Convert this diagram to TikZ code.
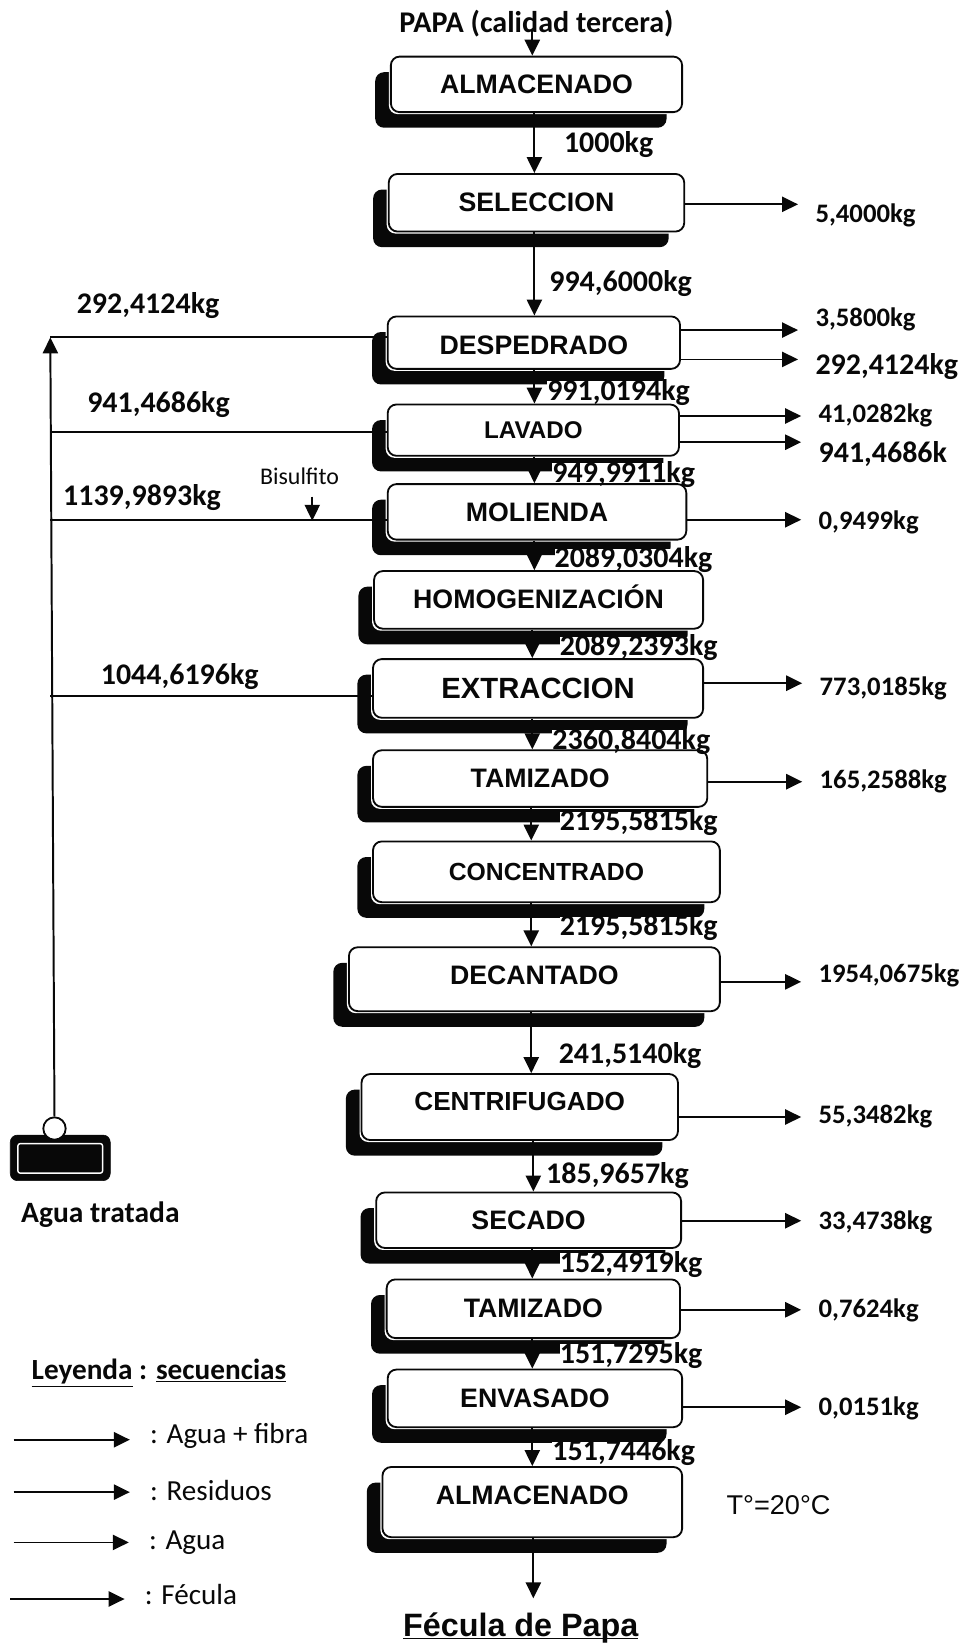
\documentclass[tikz,border=0pt]{standalone}
\usepackage{fontspec}
\setmainfont{Carlito}
\newfontfamily\arialfont{Liberation Sans}
\usepackage{xcolor}
\usepackage{tikz}
\usetikzlibrary{arrows.meta, shadows}
\definecolor{ink}{RGB}{8,8,8}

\begin{document}
\begin{tikzpicture}[
  x=0.26196mm, y=-0.26196mm, text=ink,
  box/.style={draw=ink, fill=white, line width=1.3pt, rounded corners=2.2mm, inner sep=0pt,
              font=\arialfont\bfseries\fontsize{19pt}{22pt}\selectfont, align=center,
              general shadow={fill=ink, shadow xshift=-3.9mm, shadow yshift=-3.9mm},
              general shadow={fill=white, shadow xshift=-0.5mm, shadow yshift=-0.5mm}},
  bw/.style={minimum width=#1*0.26196mm},
  bh/.style={minimum height=#1*0.26196mm},
  flow/.style={-{Triangle[length=4mm, width=3.8mm]}, draw=ink, line width=1.4pt},
  sidearrow/.style={flow, line width=1.3pt, shorten >=4.3mm},
  bar/.style={draw=ink, line width=1.3pt},
  mass/.style={anchor=west, inner sep=0pt, fill=white, text height=13.4pt, text depth=0pt,
               font=\bfseries\fontsize{21.3pt}{24pt}\selectfont},
  small/.style={mass, text height=12pt, font=\bfseries\fontsize{19pt}{22pt}\selectfont},
  key/.style={anchor=west, inner sep=0pt, font=\fontsize{20.7pt}{24pt}\selectfont}]

  \useasboundingbox (0,0) rectangle (920,1568);

  \node[box, bw=278, bh=53] (alm1) at (512,  80.5) {ALMACENADO};
  \node[box, bw=282, bh=55] (sel)  at (512, 193.5) {SELECCION};
  \node[box, bw=279, bh=50] (des)  at (509.5, 327) {\raisebox{0pt}[\dimexpr\height+4pt\relax]{DESPEDRADO}};
  \node[box, bw=278, bh=49, font=\arialfont\bfseries\fontsize{17.2pt}{20pt}\selectfont] (lav) at (509, 410.5) {LAVADO};
  \node[box, bw=285, bh=53] (mol)  at (512.5, 488.5) {MOLIENDA};
  \node[box, bw=314, bh=55] (hom)  at (514, 572.5) {\raisebox{4pt}{HOMOGENIZACIÓN}};
  \node[box, bw=315, bh=56, font=\arialfont\bfseries\fontsize{20.8pt}{24pt}\selectfont] (ext) at (513.5, 657) {EXTRACCION};
  \node[box, bw=319, bh=54] (tam1) at (515.5, 743) {TAMIZADO};
  \node[box, bw=331, bh=58, font=\arialfont\bfseries\fontsize{17.6pt}{20pt}\selectfont] (con) at (521.5, 832) {CONCENTRADO};
  \node[box, bw=354, bh=61] (dec)  at (510, 934.5) {\raisebox{6pt}{DECANTADO}};
  \node[box, bw=302, bh=63, font=\arialfont\bfseries\fontsize{18.6pt}{22pt}\selectfont] (cen) at (496, 1056.5) {\raisebox{7.5pt}{CENTRIFUGADO}};
  \node[box, bw=291, bh=53] (sec)  at (504.5, 1164.5) {SECADO};
  \node[box, bw=280, bh=56] (tam2) at (509, 1249) {TAMIZADO};
  \node[box, bw=281, bh=55] (env)  at (510.5, 1334.5) {ENVASADO};
  \node[box, bw=286, bh=67] (alm2) at (508, 1433.5) {\raisebox{10pt}{ALMACENADO}};

  \node[inner sep=0pt, font=\bfseries\fontsize{21.4pt}{24pt}\selectfont] (papa) at (512, 23) {PAPA (calidad tercera)};
  \node[anchor=base, inner sep=0pt, font=\arialfont\bfseries\fontsize{23pt}{26pt}\selectfont] (fec) at (497, 1562) {\underline{\raisebox{0pt}[\height][0pt]{Fécula de Papa}}};
  \node[inner sep=0pt, font=\arialfont\fontsize{19.3pt}{22pt}\selectfont] (tem) at (743, 1436) {T°=20°C};

  % main line
  \coordinate (in) at (508, 28);
  \draw[flow] (in) -- (alm1.north -| in);
  \foreach \a/\b/\xx in {alm1/sel/510, sel/des/510, des/lav/510, lav/mol/510, mol/hom/510,
      hom/ext/508, ext/tam1/508, tam1/con/507, con/dec/507, dec/cen/507,
      cen/sec/509, sec/tam2/508, tam2/env/508, env/alm2/508}
    \draw[flow] (\a.south -| \xx,0) -- (\b.north -| \xx,0);
  \draw[flow, shorten >=3.6mm] (alm2.south -| 509,0) -- (fec.north -| 509,0);

  % masses on the line
  \node[mass] (m1)  at (538, 137)  {1000kg};
  \node[mass] (m2)  at (524, 269)  {994,6000kg};
  \node[mass] (m3)  at (522, 373)  {991,0194kg};
  \node[mass] (m4)  at (527, 451)  {949,9911kg};
  \node[mass] (m5)  at (529, 533)  {2089,0304kg};
  \node[mass] (m6)  at (534, 617)  {2089,2393kg};
  \node[mass] (m7)  at (527, 706)  {2360,8404kg};
  \node[mass] (m8)  at (534, 784)  {2195,5815kg};
  \node[mass] (m9)  at (534, 884)  {2195,5815kg};
  \node[mass] (m10) at (533, 1006) {241,5140kg};
  \node[mass] (m11) at (521, 1120) {185,9657kg};
  \node[mass] (m12) at (534, 1205) {152,4919kg};
  \node[mass] (m13) at (534, 1292) {151,7295kg};
  \node[mass] (m14) at (527, 1385) {151,7446kg};

  % outputs
  \node[small] (o1)  at (778, 204)  {5,4000kg};
  \node[small] (o2)  at (778, 304)  {3,5800kg};
  \node[mass]  (o3)  at (778, 348)  {292,4124kg};
  \node[small] (o4)  at (781, 395)  {41,0282kg};
  \node[mass]  (o5)  at (781, 432)  {941,4686k};
  \node[small] (o6)  at (781, 497)  {0,9499kg};
  \node[small] (o7)  at (782, 656)  {773,0185kg};
  \node[small] (o8)  at (782, 744)  {165,2588kg};
  \node[small] (o9)  at (781, 930)  {1954,0675kg};
  \node[small] (o10) at (781, 1064) {55,3482kg};
  \node[small] (o11) at (781, 1165) {33,4738kg};
  \node[small] (o12) at (781, 1249) {0,7624kg};
  \node[small] (o13) at (781, 1343) {0,0151kg};
  \foreach \a/\b/\yy in {sel/o1/195, des/o2/315, des/o3/343, lav/o4/397, lav/o5/422, mol/o6/496,
      ext/o7/652, tam1/o8/746, dec/o9/937, cen/o10/1066, sec/o11/1165, tam2/o12/1250, env/o13/1343}
    \draw[sidearrow] (\a.east |- 0,\yy) -- (\b.west |- 0,\yy);

  % water return
  \node[draw=ink, fill=ink, rounded corners=1.8mm, minimum width=25mm, minimum height=11.4mm, inner sep=0pt] (tank) at (57.5, 1105) {};
  \node[draw=white, fill=ink, line width=1pt, rounded corners=0.6mm, minimum width=21.2mm, minimum height=7.4mm, inner sep=0pt] (tankin) at (57.5, 1105.5) {};
  \node[circle, draw=ink, fill=white, line width=1.3pt, minimum size=5.6mm, inner sep=0pt] (tap) at (52, 1077) {};
  \node[small, font=\bfseries\fontsize{21pt}{24pt}\selectfont] (agua) at (20, 1159) {Agua tratada};
  \coordinate (top) at (48, 322);
  \draw[flow] (tap.north) -- (top);
  \draw[bar] (des.west |- top) -- (top);
  \foreach \a/\yy in {lav/412, mol/496, ext/664}
    \draw[bar] (\a.west |- 0,\yy) -- (top |- 0,\yy);
  \node[mass] (l1) at (73, 290)  {292,4124kg};
  \node[mass] (l2) at (83, 385)  {941,4686kg};
  \node[mass] (l3) at (60, 473)  {1139,9893kg};
  \node[mass] (l4) at (96, 644)  {1044,6196kg};

  \node[key, font=\fontsize{17pt}{20pt}\selectfont] (bis) at (248, 455) {Bisulfito};
  \coordinate (bisin) at (298, 474);
  \draw[flow, line width=1.1pt] (bisin) -- (bisin |- 0,497);

  % legend
  \node[key, font=\bfseries\fontsize{20.8pt}{24pt}\selectfont] (ley) at (30, 1310) {\underline{Leyenda} : \underline{secuencias}};
  \node[key] (t1) at (143, 1370) {: Agua + fibra};
  \node[key] (t2) at (143, 1422) {: Residuos};
  \node[key] (t3) at (142, 1472) {: Agua};
  \node[key] (t4) at (138, 1522) {: Fécula};
  \foreach \k/\xx/\yy in {1/13/1374, 2/13/1424, 3/13/1472, 4/10/1526}
    \draw[flow, line width=1.3pt, shorten >=5mm] (\xx,\yy) -- (t\k.west |- 0,\yy);
\end{tikzpicture}
\end{document}
